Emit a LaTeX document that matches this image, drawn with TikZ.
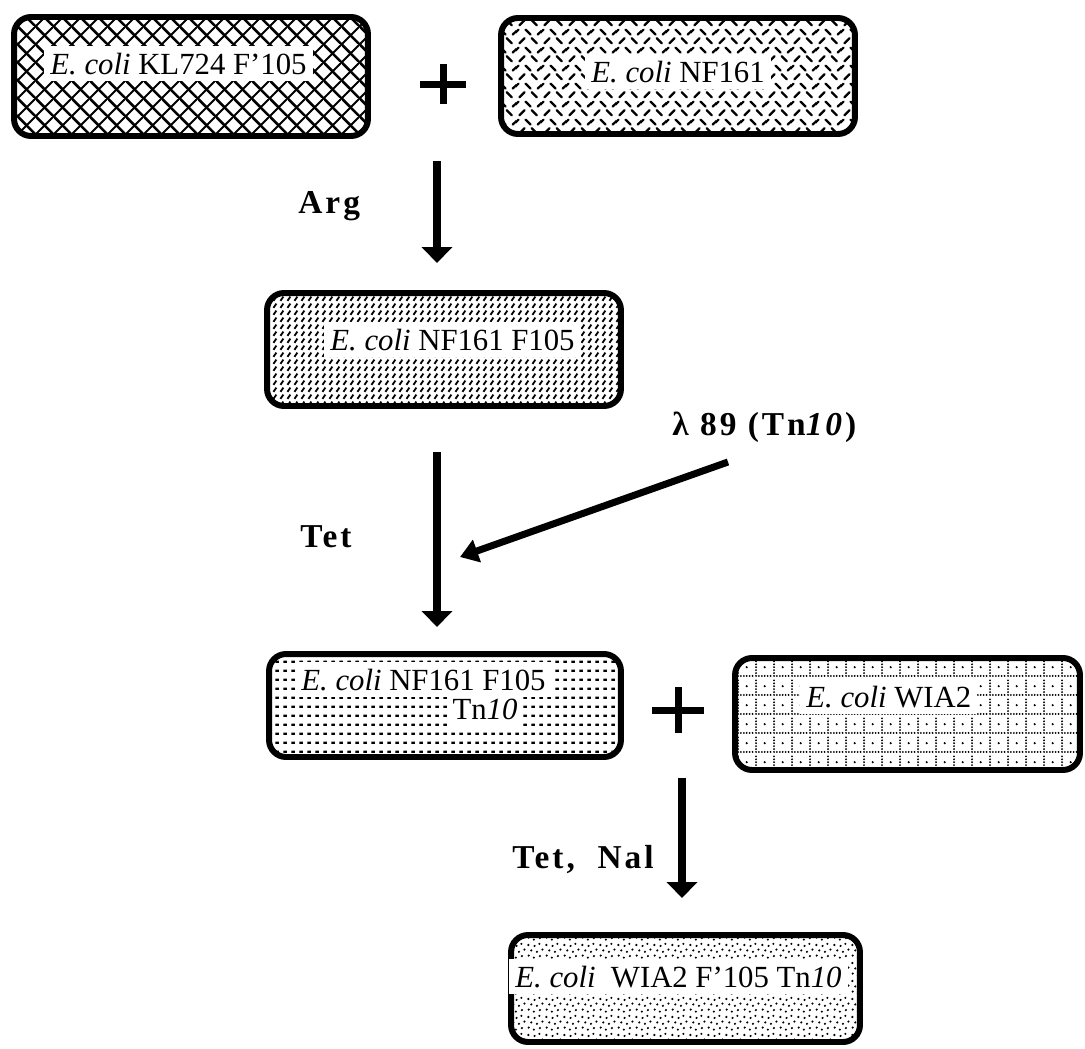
\documentclass[tikz,border=0pt]{standalone}
\usepackage{fontspec}
\setmainfont{Liberation Serif}
\usetikzlibrary{patterns,arrows.meta}

% box 1: diagonal crosshatch
\pgfdeclarepatternformonly{xhatch}{\pgfpoint{0pt}{0pt}}{\pgfpoint{10pt}{10pt}}{\pgfpoint{10pt}{10pt}}{
  \pgfsetlinewidth{1.5pt}
  \pgfpathmoveto{\pgfpoint{-1pt}{11pt}}\pgfpathlineto{\pgfpoint{11pt}{-1pt}}
  \pgfusepath{stroke}
  \pgfsetlinewidth{1.1pt}
  \pgfpathmoveto{\pgfpoint{-1pt}{-1pt}}\pgfpathlineto{\pgfpoint{11pt}{11pt}}
  \pgfusepath{stroke}
}
% box 2: scattered crossed dashes
\pgfdeclarepatternformonly{dashx}{\pgfpoint{0pt}{0pt}}{\pgfpoint{14pt}{10pt}}{\pgfpoint{14pt}{10pt}}{
  \pgfsetlinewidth{1.3pt}\pgfsetroundcap
  % row 1
  \pgfpathmoveto{\pgfpoint{2pt}{1pt}}\pgfpathlineto{\pgfpoint{5pt}{4pt}}
  \pgfpathmoveto{\pgfpoint{9pt}{4pt}}\pgfpathlineto{\pgfpoint{12pt}{1pt}}
  % row 2
  \pgfpathmoveto{\pgfpoint{5.5pt}{9pt}}\pgfpathlineto{\pgfpoint{8.5pt}{6pt}}
  \pgfpathmoveto{\pgfpoint{-1.5pt}{6pt}}\pgfpathlineto{\pgfpoint{1.5pt}{9pt}}
  \pgfpathmoveto{\pgfpoint{12.5pt}{6pt}}\pgfpathlineto{\pgfpoint{15.5pt}{9pt}}
  \pgfusepath{stroke}
}
% box 3: dense slanted dashes
\pgfdeclarepatternformonly{ddash}{\pgfpoint{0pt}{0pt}}{\pgfpoint{4.2pt}{4.2pt}}{\pgfpoint{4.2pt}{4.2pt}}{
  \pgfsetlinewidth{1.1pt}
  \pgfpathmoveto{\pgfpoint{0.9pt}{0.7pt}}\pgfpathlineto{\pgfpoint{2.7pt}{3.3pt}}
  \pgfusepath{stroke}
}
% box 4: horizontal rows of dots
\pgfdeclarepatternformonly{hdots}{\pgfpoint{0pt}{0pt}}{\pgfpoint{4.6pt}{5.2pt}}{\pgfpoint{4.6pt}{5.2pt}}{
  \pgfpathrectangle{\pgfpoint{0.8pt}{2pt}}{\pgfpoint{2.3pt}{1.3pt}}
  \pgfusepath{fill}
}
% box 5: dotted grid
\pgfdeclarepatternformonly{dgrid}{\pgfpoint{0pt}{0pt}}{\pgfpoint{10.5pt}{10.5pt}}{\pgfpoint{10.5pt}{10.5pt}}{
  \foreach \q in {0.6,2.3,4.0,5.7,7.4,9.1}{\pgfpathcircle{\pgfpoint{0.6pt}{\q pt}}{0.6pt}}
  \foreach \q in {2.3,4.0,5.7,7.4,9.1}{\pgfpathcircle{\pgfpoint{\q pt}{0.6pt}}{0.6pt}}
  \pgfpathcircle{\pgfpoint{5.7pt}{5.7pt}}{0.7pt}
  \pgfusepath{fill}
}
% box 6: random dots
\pgfdeclarepatternformonly{rdots}{\pgfpoint{0pt}{0pt}}{\pgfpoint{10pt}{10pt}}{\pgfpoint{10pt}{10pt}}{
  \pgfpathcircle{\pgfpoint{1pt}{2pt}}{0.7pt}
  \pgfpathcircle{\pgfpoint{4pt}{0.8pt}}{0.7pt}
  \pgfpathcircle{\pgfpoint{7.5pt}{1.7pt}}{0.7pt}
  \pgfpathcircle{\pgfpoint{2.5pt}{5pt}}{0.7pt}
  \pgfpathcircle{\pgfpoint{5.8pt}{4.2pt}}{0.7pt}
  \pgfpathcircle{\pgfpoint{9pt}{5.5pt}}{0.7pt}
  \pgfpathcircle{\pgfpoint{0.8pt}{8.2pt}}{0.7pt}
  \pgfpathcircle{\pgfpoint{4.4pt}{7.6pt}}{0.7pt}
  \pgfpathcircle{\pgfpoint{7.2pt}{8.8pt}}{0.7pt}
  \pgfusepath{fill}
}

\begin{document}
\begin{tikzpicture}[x=0.02cm,y=-0.02cm,
  box/.style={draw, line width=3.4pt, rounded corners=0.34cm, inner sep=0pt, pattern color=black},
  lbl/.style={fill=white, inner xsep=0.12cm, inner ysep=0.14cm, font=\fontsize{17.5}{20}\selectfont, anchor=base west},
  cond/.style={font=\fontsize{19}{22}\selectfont\bfseries\addfontfeatures{LetterSpace=9}, anchor=base west, inner sep=0pt},
  flow/.style={line width=0.16cm, -{Triangle[width=0.6cm,length=0.32cm]}},
  thin flow/.style={line width=0.14cm, -{Triangle[width=0.46cm,length=0.36cm]}},
  plusbar/.style={line width=0.14cm}]

\useasboundingbox (0,0) rectangle (1085,1048);

% boxes
\node[box, pattern=xhatch, minimum width=7.08cm, minimum height=2.38cm] (b1) at (191,76.5) {};
\node[box, pattern=dashx, minimum width=7.08cm, minimum height=2.32cm] (b2) at (678,76) {};
\node[box, pattern=ddash, minimum width=7.08cm, minimum height=2.26cm] (b3) at (444,349.5) {};
\node[box, pattern=hdots, minimum width=7.04cm, minimum height=2.06cm] (b4) at (445,705.5) {};
\node[box, pattern=dgrid, minimum width=6.9cm, minimum height=2.24cm] (b5) at (907.5,714) {};
\node[box, pattern=rdots, minimum width=6.98cm, minimum height=2.14cm] (b6) at (685.5,988.5) {};

% box texts
\node[lbl] (t1) at (44,74) {\textit{E. coli} KL724 F'105};
\node[lbl] (t2) at (585,82) {\textit{E. coli} NF161};
\node[lbl] (t3) at (324,350) {\textit{E. coli} NF161 F105};
\node[lbl] (t4a) at (295,690) {\textit{E. coli} NF161 F105};
\node[lbl, anchor=base] (t4b) at (485,719) {Tn\textit{10}};
\node[lbl] (t5) at (800,707) {\textit{E. coli} WIA2};
\node[lbl] (t6) at (509,987) {\textit{E. coli}\ \ WIA2 F'105 Tn\textit{10}};

% plus signs
\coordinate (p1) at (443,84);
\coordinate (p2) at (678,710);
\draw[plusbar] ([xshift=-0.46cm]p1) -- ([xshift=0.46cm]p1) ([yshift=-0.4cm]p1) -- ([yshift=0.4cm]p1);
\draw[plusbar] ([xshift=-0.52cm]p2) -- ([xshift=0.52cm]p2) ([yshift=-0.46cm]p2) -- ([yshift=0.46cm]p2);

% condition labels
\node[cond] (arg) at (298,213) {Arg};
\node[cond] (tet) at (300,547) {Tet};
\node[cond] (tetnal) at (512,868) {Tet,\ \ Nal};
\node[cond] (lam) at (672,435) {λ 89 (Tn\textit{10})};

% arrows
\coordinate (a1s) at (437,161); \coordinate (a1e) at (437,263);
\coordinate (a2s) at (437,452); \coordinate (a2e) at (437,627);
\coordinate (a3s) at (682,778); \coordinate (a3e) at (682,898);
\coordinate (ds) at (728,462); \coordinate (de) at (460,557);
\draw[flow] (a1s) -- (a1e);
\draw[flow] (a2s) -- (a2e);
\draw[flow] (a3s) -- (a3e);
\draw[thin flow] (ds) -- (de);
\end{tikzpicture}
\end{document}
